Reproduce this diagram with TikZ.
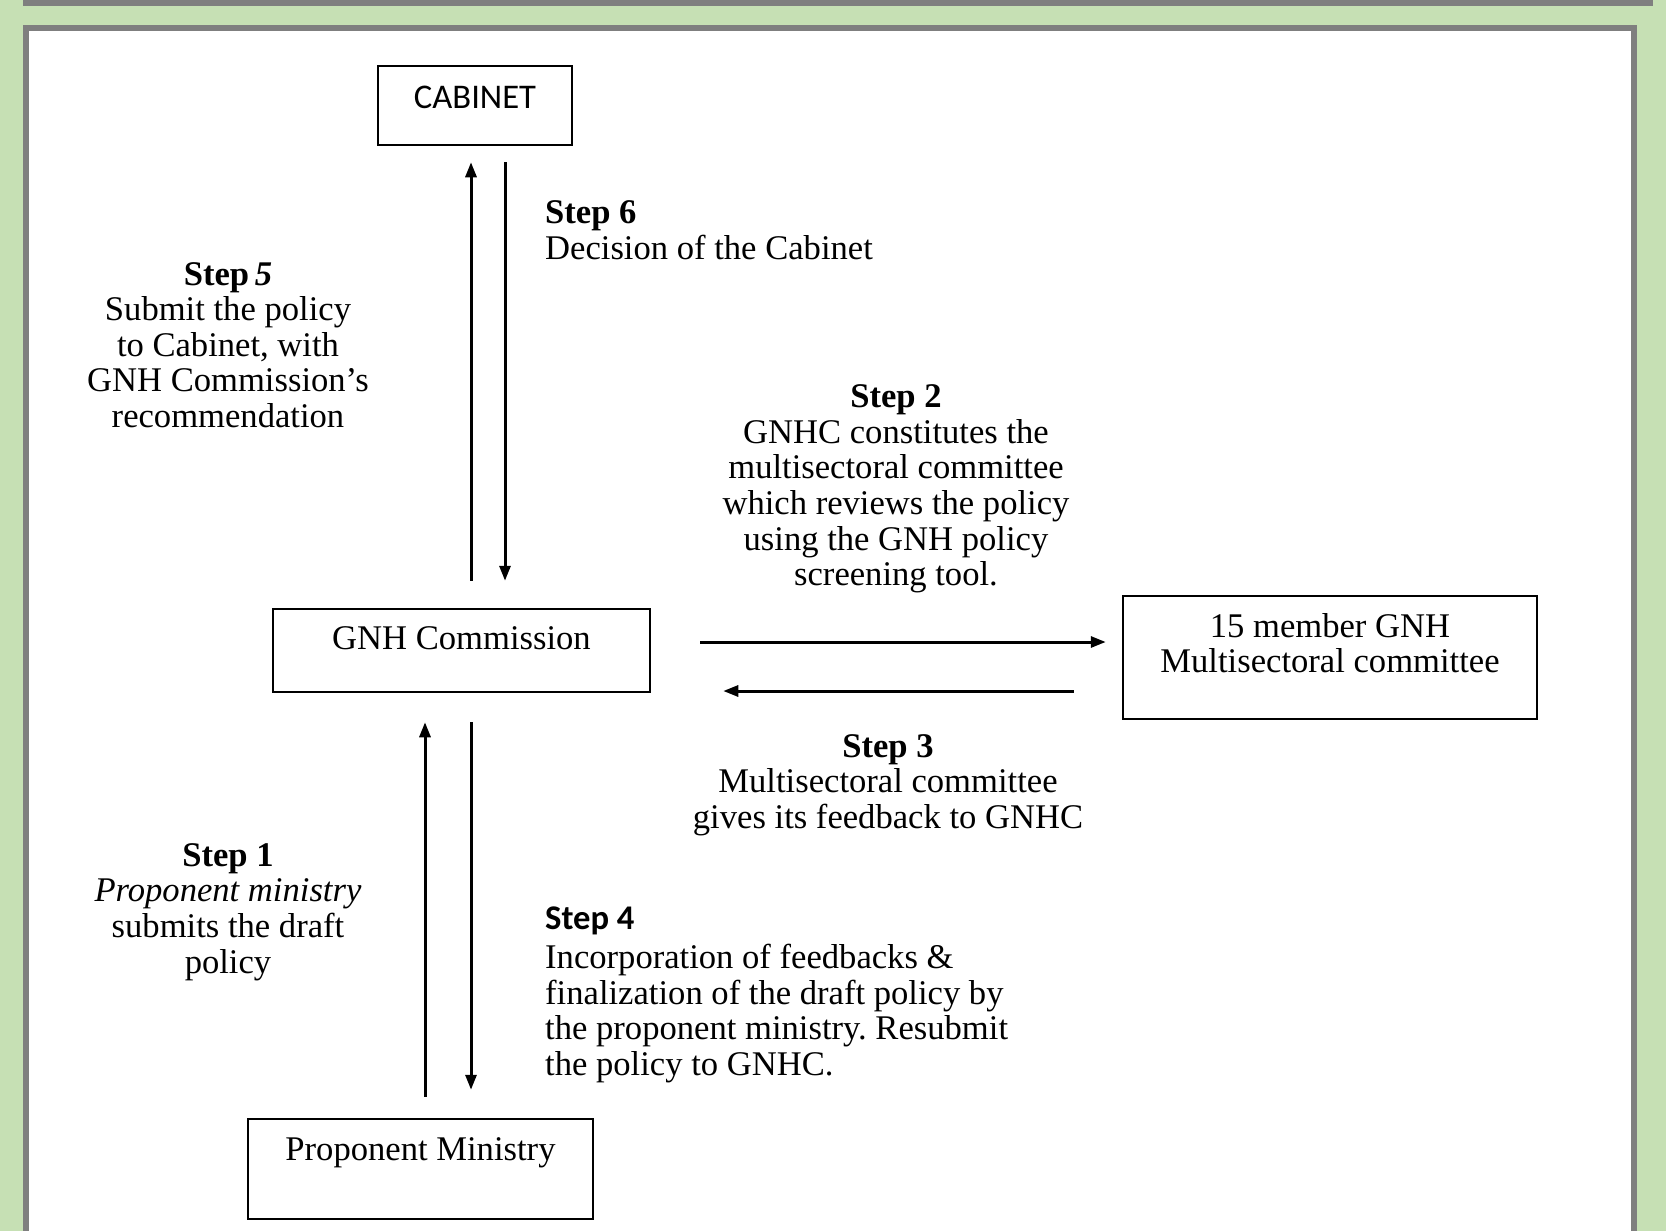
\documentclass[tikz,border=0pt]{standalone}
\usepackage{fontspec}
\setmainfont{Liberation Serif}
\newfontfamily\calibri{Carlito}
\usetikzlibrary{arrows.meta,calc}
\definecolor{panelgreen}{RGB}{198,224,180}
\definecolor{framegrey}{RGB}{127,127,127}
\frenchspacing

\begin{document}
\begin{tikzpicture}[x=1pt,y=-1pt,
  txt/.style={font=\fontsize{34.6}{35.6}\selectfont, inner sep=0pt, align=center},
  box/.style={draw=black, line width=2.5pt, rectangle, inner sep=0pt, align=center,
              font=\fontsize{34.6}{35.6}\selectfont},
  arr/.style={line width=3pt, -{Triangle[length=15pt,width=11pt]}}
]
% page and panel frames
\useasboundingbox[fill=panelgreen] (0,0) rectangle (1666,1231);
\draw[framegrey, line width=5.5pt, fill=white] (26,-50) rectangle (1650,3);
\draw[framegrey, line width=5.5pt, fill=white] (26,28) rectangle (1634,1300);

% boxes (text height/depth place the baseline of the last line inside each box)
\node[box, minimum width=194pt, text height=42pt, text depth=37pt] (cab) at (475,105.5)
  {\calibri CABINET};
\node[box, minimum width=377pt, text height=40.5pt, text depth=42.5pt] (gnh) at (461.5,650.5)
  {GNH Commission};
\node[box, minimum width=414pt, text height=76.6pt, text depth=46.4pt] (mem) at (1330,657.5)
  {15 member GNH\\Multisectoral committee};
\node[box, minimum width=345pt, text height=41pt, text depth=59pt] (prop) at (420.5,1169)
  {Proponent Ministry};

% connectors
\draw[arr, shorten <=27pt, shorten >=16pt] ($(gnh.north)+(9.5,0)$) -- ($(cab.south)+(-4,0)$);
\draw[arr, shorten <=16pt, shorten >=27pt] ($(cab.south)+(30,0)$) -- ($(gnh.north)+(43.5,0)$);
\draw[arr, shorten <=49pt, shorten >=16pt] ($(gnh.east)+(0,-8.5)$) -- ($(mem.west)+(0,-15.5)$);
\draw[arr, shorten <=48pt, shorten >=72pt] ($(mem.west)+(0,33.5)$) -- ($(gnh.east)+(0,40.5)$);
\draw[arr, shorten <=21pt, shorten >=29pt] ($(prop.north)+(4.5,0)$) -- ($(gnh.south)+(-36.5,0)$);
\draw[arr, shorten <=29pt, shorten >=28pt] ($(gnh.south)+(9.5,0)$) -- ($(prop.north)+(50.5,0)$);

% step labels
\node[txt] (s5) at (228,345)
  {\textbf{Step\,\textit{5}}\\Submit the policy\\to Cabinet, with\\GNH Commission’s\\recommendation};
\node[txt, anchor=west, align=left] (s6) at (545,230)
  {\textbf{Step 6}\\Decision of the Cabinet};
\node[txt] (s2) at (896,489)
  {\textbf{Step 2}\\GNHC constitutes the\\multisectoral committee\\which reviews the policy\\using the GNH policy\\screening tool.};
\node[txt] (s3) at (888,785)
  {\textbf{Step 3}\\Multisectoral committee\\gives its feedback to GNHC};
\node[txt] (s1) at (228,912)
  {\textbf{Step 1}\\\textit{Proponent ministry}\\submits the draft\\policy};
\node[txt, anchor=west, align=left] (s4) at (545,995)
  {{\calibri\bfseries Step 4}\\[3pt]Incorporation of feedbacks \&\\finalization of the draft policy by\\the proponent ministry. Resubmit\\the policy to GNHC.};
\end{tikzpicture}
\end{document}
